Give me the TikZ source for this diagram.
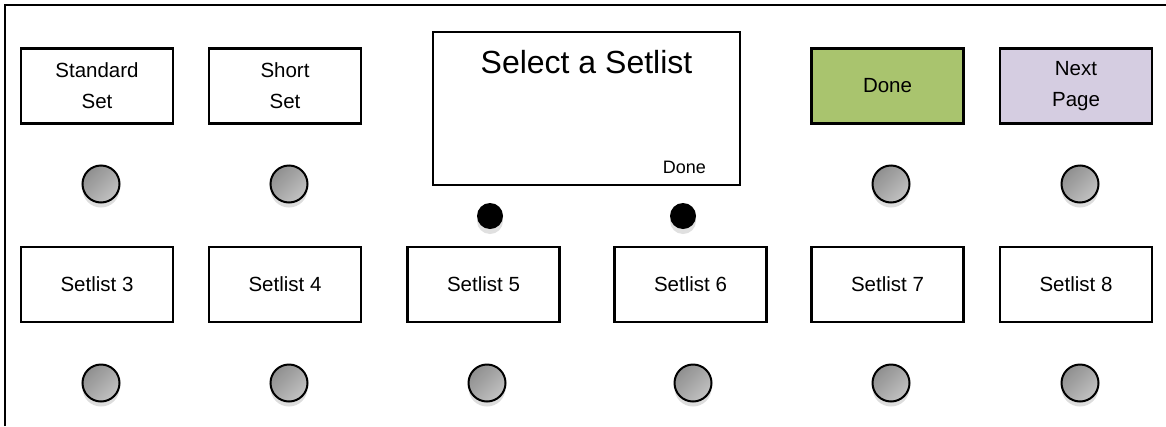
\documentclass[tikz,border=0pt]{standalone}
\usepackage{fontspec}
\setmainfont{Liberation Sans}
\usetikzlibrary{shadows}
\definecolor{donegreen}{HTML}{A9C46E}
\definecolor{nextlav}{HTML}{D5CDE1}
\begin{document}
\begin{tikzpicture}[x=1pt,y=-1pt,
  btnbox/.style={draw=black, line width=2.4pt, fill=white, minimum width=152pt, minimum height=75pt,
     align=center, font=\fontsize{20.5}{31}\selectfont, inner sep=0pt},
  knob/.style={circle, draw=black, line width=2pt, minimum size=37pt, inner sep=0pt,
     top color=black!44, bottom color=black!24, shading angle=45,
     drop shadow={opacity=0.22, shadow xshift=0pt, shadow yshift=-5pt, fill=black!60}},
  dot/.style={circle, fill=black, minimum size=26pt, inner sep=0pt,
     drop shadow={opacity=0.2, shadow xshift=0pt, shadow yshift=-5pt, fill=black!60}}
]
\useasboundingbox (0,0) rectangle (1166,426);
\fill[white] (0,0) rectangle (1166,426);
\coordinate (fbl) at (5,426);
\coordinate (ftl) at (5,5);
\coordinate (ftr) at (1166,5);
\draw[line width=2.4pt] (fbl) -- (ftl) -- (ftr);

% top row
\node[btnbox] (std) at (97,86) {Standard\\Set};
\node[btnbox] (short) at (285,86) {Short\\Set};
\node[btnbox, fill=donegreen] (done) at (887.5,86) {\raisebox{-2pt}{Done}};
\node[btnbox, fill=nextlav] (next) at (1076,86) {Next\\Page};

% screen
\node[draw=black, line width=2.4pt, minimum width=307pt, minimum height=153pt, inner sep=0pt] (screen) at (586.5,108.5) {};
\node[font=\fontsize{32}{36}\selectfont, anchor=base] (title) at (586.5,73) {Select a Setlist};
\node[font=\fontsize{18}{20}\selectfont, anchor=base east, inner sep=0pt] (sdone) at (706,173) {Done};

% top knobs
\node[knob] (k1) at (101,184) {};
\node[knob] (k2) at (289,184) {};
\node[knob] (k5) at (891,184) {};
\node[knob] (k6) at (1080,184) {};
\node[dot] (d1) at (490,216) {};
\node[dot] (d2) at (683,216) {};

% bottom row
\node[btnbox] (s3) at (97,284.5) {Setlist 3};
\node[btnbox] (s4) at (285,284.5) {Setlist 4};
\node[btnbox] (s5) at (483.5,284.5) {Setlist 5};
\node[btnbox] (s6) at (690.5,284.5) {Setlist 6};
\node[btnbox] (s7) at (887.5,284.5) {Setlist 7};
\node[btnbox] (s8) at (1076,284.5) {Setlist 8};

\node[knob] (b1) at (101,383) {};
\node[knob] (b2) at (289,383) {};
\node[knob] (b3) at (487,383) {};
\node[knob] (b4) at (693,383) {};
\node[knob] (b5) at (891,383) {};
\node[knob] (b6) at (1080,383) {};
\end{tikzpicture}
\end{document}
